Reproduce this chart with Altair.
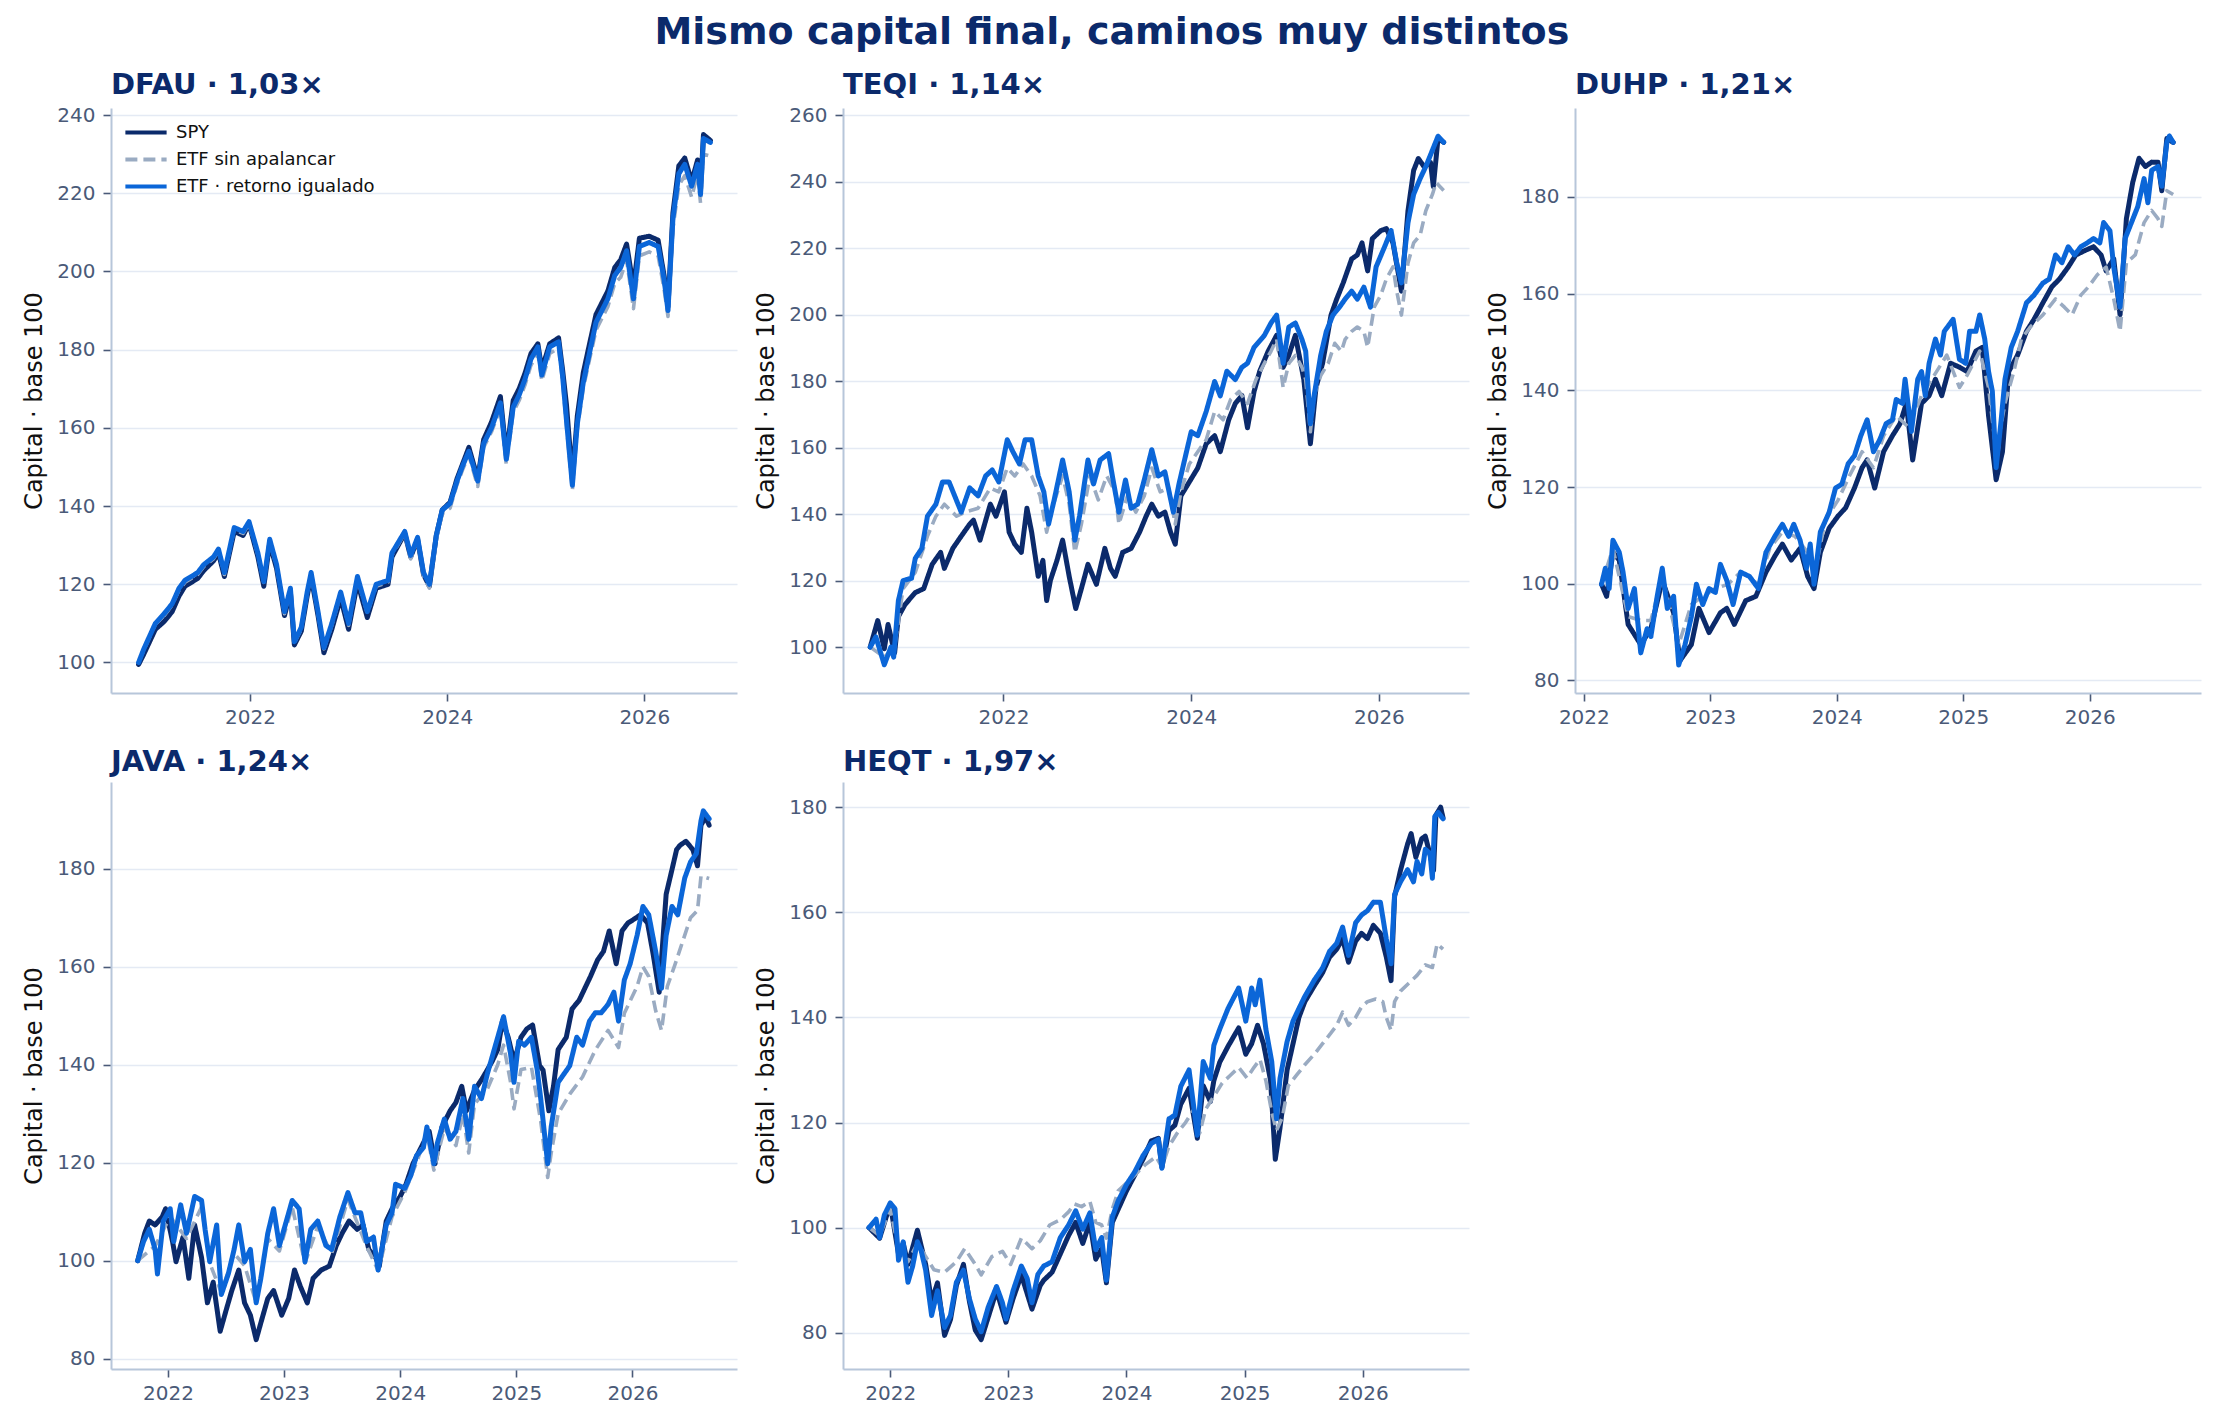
import altair as alt
import pandas as pd

SERIES = ["SPY", "ETF sin apalancar", "ETF · retorno igualado"]
COLORS = ["#0b2a6b", "#9aabc2", "#0b66d8"]
DASHES = [[1, 0], [12, 6], [1, 0]]
WIDTHS = [5.0, 3.6, 5.0]
FONT = "DejaVu Sans"
NAVY = "#0b2a6b"

TITLES = ["DFAU · 1,03×", "TEQI · 1,14×", "DUHP · 1,21×", "JAVA · 1,24×", "HEQT · 1,97×"]

# ---------------- DFAU (shared dates) ----------------
DFAU_T = [2020.87, 2020.92, 2021.04, 2021.13, 2021.21, 2021.28, 2021.34, 2021.47, 2021.53, 2021.63,
          2021.68, 2021.74, 2021.84, 2021.93, 2021.99, 2022.08, 2022.14, 2022.20, 2022.27, 2022.35,
          2022.41, 2022.45, 2022.52, 2022.58, 2022.62, 2022.69, 2022.75, 2022.83, 2022.92, 2023.00,
          2023.09, 2023.19, 2023.28, 2023.40, 2023.44, 2023.57, 2023.63, 2023.70, 2023.76, 2023.82,
          2023.89, 2023.95, 2024.03, 2024.10, 2024.16, 2024.22, 2024.31, 2024.37, 2024.45, 2024.54,
          2024.60, 2024.67, 2024.73, 2024.79, 2024.85, 2024.92, 2024.96, 2025.04, 2025.13, 2025.17,
          2025.21, 2025.27, 2025.32, 2025.38, 2025.44, 2025.51, 2025.57, 2025.63, 2025.70, 2025.76,
          2025.82, 2025.89, 2025.95, 2026.05, 2026.14, 2026.20, 2026.24, 2026.29, 2026.35, 2026.41,
          2026.48, 2026.54, 2026.57, 2026.60, 2026.67]
DFAU_EQ = [100, 103.3, 110, 112.5, 115, 119, 121, 123, 125, 127,
           129, 123, 134.5, 133.5, 136, 128, 120.7, 131.5, 125, 113,
           119, 105.3, 109, 118, 123, 113, 103.8, 110, 118, 110,
           122, 113, 120, 121, 128, 133.5, 127.4, 132, 123, 120,
           132.5, 139, 140.7, 146.4, 150.5, 154, 146.4, 156, 160, 166.4,
           152, 165.3, 168.4, 172.5, 177.6, 180.7, 173.5, 180.7, 182, 173.5,
           162, 145.3, 161, 171.5, 178.7, 187, 190, 193, 199, 201,
           205.3, 193, 206.4, 207.4, 206.4, 198, 190, 213.5, 225, 227.4,
           221.8, 227.4, 219.7, 234, 233]
DFAU_SPY = [99.5, 102, 108.5, 110.5, 113, 117, 119.5, 121.5, 123.5, 126,
            128, 122, 133.5, 132.5, 135.5, 127, 119.5, 130.5, 124, 112,
            118, 104.5, 108, 117, 122, 112, 102.5, 108.5, 116.5, 108.5,
            120.5, 111.5, 119, 120, 127, 133, 127, 131.5, 122.5, 119.5,
            132.5, 139, 141, 147, 151, 155, 147, 157, 161.5, 168,
            153, 167, 170, 174, 179, 181.5, 175, 181.5, 183, 175,
            166, 147, 163, 174, 181, 189, 192, 195, 201, 203,
            207, 196, 208.5, 209, 208, 199, 191, 215, 227, 229,
            223, 228.5, 221, 235, 233.5]
DFAU_UNL = [100, 103, 109.8, 112, 114.7, 118.5, 120.5, 122.5, 124.5, 126.5,
            128.5, 122.5, 134, 133, 135.5, 127.5, 120.5, 131, 124.5, 112.5,
            118.5, 105, 108.5, 117.5, 122.5, 112.5, 103.5, 109.5, 117.5, 109.5,
            121.5, 112.5, 119.5, 120.5, 127.5, 133, 126.5, 131.5, 122, 119,
            131.5, 138, 139.5, 145.5, 149.5, 153, 145, 155, 159, 165,
            150.5, 164, 167, 171, 176, 179, 172, 179, 180.5, 172,
            160.5, 144, 159.5, 170, 177, 185, 188, 191, 197, 198.5,
            203, 190.5, 204, 205, 204, 195.5, 188.5, 211, 222, 224.5,
            219, 225, 217.5, 230, 229.5]

# ---------------- TEQI ----------------
TEQI_EQ_T = [2020.58, 2020.64, 2020.73, 2020.80, 2020.83, 2020.88, 2020.93, 2021.02, 2021.06, 2021.13,
             2021.19, 2021.28, 2021.35, 2021.42, 2021.48, 2021.55, 2021.64, 2021.73, 2021.81, 2021.88,
             2021.95, 2022.04, 2022.10, 2022.17, 2022.23, 2022.30, 2022.37, 2022.43, 2022.48, 2022.54,
             2022.63, 2022.70, 2022.76, 2022.81, 2022.90, 2022.96, 2023.03, 2023.12, 2023.16, 2023.23,
             2023.30, 2023.36, 2023.43, 2023.50, 2023.58, 2023.65, 2023.72, 2023.81, 2023.87, 2023.94,
             2024.00, 2024.07, 2024.16, 2024.25, 2024.31, 2024.38, 2024.47, 2024.54, 2024.60, 2024.67,
             2024.78, 2024.85, 2024.91, 2024.98, 2025.04, 2025.11, 2025.18, 2025.22, 2025.27, 2025.31,
             2025.38, 2025.44, 2025.51, 2025.58, 2025.64, 2025.71, 2025.77, 2025.84, 2025.91, 2025.97,
             2026.06, 2026.13, 2026.19, 2026.24, 2026.31, 2026.37, 2026.44, 2026.50, 2026.57, 2026.63,
             2026.69]
TEQI_EQ = [100, 103.1, 94.7, 100, 97, 114, 120, 120.7, 126.7, 129.7,
           139.4, 143, 149.7, 149.7, 145.5, 140.6, 147.9, 145.5, 151.5, 153.3,
           149.7, 162.4, 158.8, 155.1, 162.4, 162.4, 151.5, 146.7, 137, 144.3,
           156.3, 146.7, 132.2, 139.4, 156.3, 149.1, 156.3, 158.2, 151.5, 140.6,
           150.3, 141.8, 143, 150.3, 159.4, 151.5, 152.7, 140.6, 149.1, 157.6,
           164.8, 163.6, 170.9, 179.9, 175.6, 183, 180.5, 184.2, 185.4, 190.2,
           193.8, 197.5, 199.9, 185.4, 196.3, 197.5, 192.6, 189, 167.2, 175.7,
           187.8, 195, 199.9, 202.3, 204.7, 207.1, 204.7, 208.3, 202.3, 214.4,
           220.4, 225.3, 215.6, 209.6, 227.7, 236.2, 241, 244.6, 249.5, 253.7,
           251.9]
TEQI_SPY_T = [2020.58, 2020.66, 2020.73, 2020.77, 2020.84, 2020.88, 2020.95, 2021.06, 2021.15, 2021.24,
              2021.33, 2021.37, 2021.46, 2021.55, 2021.64, 2021.68, 2021.75, 2021.86, 2021.92, 2022.01,
              2022.06, 2022.12, 2022.19, 2022.25, 2022.30, 2022.37, 2022.42, 2022.46, 2022.50, 2022.57,
              2022.63, 2022.70, 2022.77, 2022.83, 2022.90, 2022.99, 2023.08, 2023.14, 2023.19, 2023.27,
              2023.36, 2023.45, 2023.52, 2023.58, 2023.65, 2023.72, 2023.78, 2023.83, 2023.89, 2023.98,
              2024.07, 2024.16, 2024.25, 2024.31, 2024.40, 2024.47, 2024.54, 2024.60, 2024.67, 2024.73,
              2024.82, 2024.91, 2024.98, 2025.04, 2025.11, 2025.20, 2025.27, 2025.33, 2025.40, 2025.49,
              2025.55, 2025.62, 2025.71, 2025.77, 2025.82, 2025.88, 2025.93, 2026.02, 2026.08, 2026.15,
              2026.24, 2026.31, 2026.37, 2026.42, 2026.48, 2026.55, 2026.58, 2026.63, 2026.69]
TEQI_SPY = [100, 108, 99.5, 106.8, 98.3, 109.2, 112.8, 116.4, 117.6, 124.9,
            128.5, 123.7, 129.7, 133.4, 137, 138.2, 132.2, 143, 139.4, 146.7,
            134.6, 131, 128.5, 141.8, 134.6, 121.3, 126.1, 114, 120.1, 126.1,
            132.2, 121.3, 111.6, 117.6, 124.9, 118.9, 129.7, 123.7, 121.3, 128.5,
            129.7, 134.6, 139.4, 143, 139.4, 140.6, 134.6, 131, 145.5, 149.7,
            153.9, 161.2, 163.6, 158.8, 168.4, 173.3, 175.7, 166, 176.9, 183,
            189, 193.8, 184.2, 187.8, 193.8, 180.5, 161.2, 178.1, 185.4, 199.9,
            204.7, 209.6, 216.8, 218, 221.6, 213.2, 222.9, 225.3, 225.9, 221.6,
            207.1, 231.3, 243.4, 247, 244.6, 245.8, 238.6, 253.1, 251.9]
TEQI_UNL_T = [2020.58, 2020.73, 2020.84, 2020.93, 2021.06, 2021.19, 2021.28, 2021.37, 2021.50, 2021.59,
              2021.73, 2021.86, 2021.95, 2022.04, 2022.12, 2022.21, 2022.30, 2022.39, 2022.46, 2022.52,
              2022.63, 2022.70, 2022.76, 2022.83, 2022.92, 2023.01, 2023.10, 2023.19, 2023.23, 2023.32,
              2023.41, 2023.50, 2023.58, 2023.67, 2023.76, 2023.83, 2023.89, 2023.98, 2024.07, 2024.16,
              2024.25, 2024.34, 2024.42, 2024.51, 2024.60, 2024.69, 2024.78, 2024.85, 2024.91, 2024.98,
              2025.04, 2025.11, 2025.18, 2025.22, 2025.27, 2025.31, 2025.38, 2025.46, 2025.53, 2025.60,
              2025.64, 2025.71, 2025.77, 2025.84, 2025.88, 2025.95, 2026.02, 2026.08, 2026.15, 2026.19,
              2026.24, 2026.31, 2026.37, 2026.44, 2026.50, 2026.57, 2026.61, 2026.69]
TEQI_UNL = [100, 97, 100, 117.6, 122.5, 133.4, 139.4, 143, 139.4, 140.6,
            141.8, 147.9, 146.7, 153.9, 151.5, 155.1, 151.5, 145.5, 134.6, 141.8,
            151.5, 143, 128.5, 137, 151.5, 144.3, 151.5, 146.7, 137, 145.5,
            140.6, 145.5, 153.9, 146.7, 147.9, 137, 146.7, 155.1, 158.8, 162.4,
            170.9, 168.4, 174.5, 176.9, 173.3, 180.5, 185.4, 189, 192.6, 178.1,
            185.4, 187.8, 184.2, 180.5, 164.8, 175.7, 181.7, 185.4, 191.4, 189,
            192.6, 195, 196.3, 195, 190.2, 202.3, 205.9, 210.8, 214.4, 207.1,
            199.9, 215.6, 221.6, 224, 231.3, 236.2, 239.8, 237.4]

# ---------------- DUHP ----------------
DUHP_EQ_T = [2022.14, 2022.17, 2022.20, 2022.23, 2022.28, 2022.31, 2022.35, 2022.40, 2022.45, 2022.50,
             2022.53, 2022.58, 2022.62, 2022.66, 2022.71, 2022.75, 2022.80, 2022.85, 2022.89, 2022.94,
             2022.99, 2023.04, 2023.08, 2023.13, 2023.18, 2023.24, 2023.31, 2023.38, 2023.44, 2023.51,
             2023.57, 2023.62, 2023.66, 2023.71, 2023.76, 2023.79, 2023.82, 2023.87, 2023.94, 2023.99,
             2024.04, 2024.09, 2024.14, 2024.19, 2024.24, 2024.29, 2024.34, 2024.39, 2024.44, 2024.47,
             2024.52, 2024.54, 2024.59, 2024.64, 2024.67, 2024.70, 2024.73, 2024.78, 2024.82, 2024.85,
             2024.92, 2024.97, 2025.02, 2025.05, 2025.10, 2025.13, 2025.17, 2025.20, 2025.23, 2025.26,
             2025.30, 2025.33, 2025.38, 2025.43, 2025.50, 2025.56, 2025.63, 2025.68, 2025.73, 2025.78,
             2025.83, 2025.88, 2025.93, 2025.98, 2026.03, 2026.08, 2026.11, 2026.16, 2026.19, 2026.24,
             2026.28, 2026.33, 2026.38, 2026.43, 2026.46, 2026.49, 2026.54, 2026.57, 2026.61, 2026.63,
             2026.66]
DUHP_EQ = [99.9, 103.2, 99, 109, 106.5, 102.4, 94.9, 99, 85.7, 90.7,
           89.1, 97.4, 103.2, 94.9, 97.4, 83.2, 87.4, 93.2, 99.9, 95.7,
           99, 98.2, 104, 100.7, 95.7, 102.4, 101.5, 99, 106.5, 109.8,
           112.3, 109.8, 112.3, 109, 103.2, 108.2, 99.9, 110.7, 114.8, 119.8,
           120.6, 124.8, 126.5, 130.6, 133.9, 127.3, 129.8, 133.1, 133.9, 138.1,
           137.3, 142.3, 131.5, 142.3, 143.9, 138.9, 145.6, 150.6, 147.3, 152.2,
           154.7, 146.4, 145.6, 152.2, 152.2, 155.6, 150.6, 143.9, 139.8, 124,
           133.9, 142.3, 148.9, 152.2, 158.1, 159.7, 162.2, 163, 168, 166.4,
           169.7, 168, 169.7, 170.5, 171.4, 170.5, 174.7, 173, 165.5, 157.2,
           171.4, 174.7, 178, 183.8, 178.8, 185.5, 186.3, 182.2, 191.3, 192.6,
           191.3]
DUHP_SPY_T = [2022.14, 2022.18, 2022.23, 2022.28, 2022.35, 2022.45, 2022.53, 2022.62, 2022.71, 2022.76,
              2022.85, 2022.91, 2022.99, 2023.08, 2023.13, 2023.19, 2023.28, 2023.36, 2023.44, 2023.51,
              2023.57, 2023.64, 2023.71, 2023.77, 2023.82, 2023.87, 2023.94, 2024.01, 2024.07, 2024.14,
              2024.20, 2024.24, 2024.30, 2024.37, 2024.44, 2024.50, 2024.55, 2024.60, 2024.67, 2024.73,
              2024.78, 2024.83, 2024.90, 2024.97, 2025.03, 2025.10, 2025.15, 2025.20, 2025.26, 2025.31,
              2025.36, 2025.43, 2025.50, 2025.56, 2025.63, 2025.70, 2025.76, 2025.83, 2025.89, 2025.96,
              2026.03, 2026.09, 2026.13, 2026.19, 2026.24, 2026.29, 2026.34, 2026.39, 2026.44, 2026.49,
              2026.54, 2026.57, 2026.61, 2026.66]
DUHP_SPY = [99.9, 97.4, 106.5, 104.9, 91.6, 87.4, 90.7, 100.7, 94, 84.1,
            87.4, 94.9, 89.9, 94, 94.9, 91.6, 96.5, 97.4, 102.4, 105.7,
            108.2, 104.9, 107.3, 101.5, 99, 106.5, 111.5, 114, 115.7, 119.8,
            124, 125.6, 119.8, 127.3, 130.6, 133.1, 137.3, 125.6, 137.3, 138.9,
            142.3, 138.9, 145.6, 144.8, 143.9, 148.1, 148.9, 134.8, 121.5, 127.3,
            143.9, 147.3, 152.2, 154.7, 158.1, 161.4, 163, 165.5, 168, 168.9,
            169.7, 168, 164.7, 167.2, 155.6, 175.5, 183, 188, 186.3, 187.2,
            187.2, 181.3, 192.1, 191.3]
DUHP_UNL_T = [2022.14, 2022.23, 2022.35, 2022.45, 2022.53, 2022.62, 2022.75, 2022.85, 2022.94, 2023.04,
              2023.14, 2023.24, 2023.38, 2023.47, 2023.57, 2023.67, 2023.77, 2023.82, 2023.91, 2024.01,
              2024.10, 2024.20, 2024.29, 2024.37, 2024.47, 2024.57, 2024.67, 2024.77, 2024.87, 2024.97,
              2025.03, 2025.13, 2025.20, 2025.26, 2025.33, 2025.40, 2025.46, 2025.53, 2025.63, 2025.73,
              2025.80, 2025.86, 2025.93, 2025.99, 2026.06, 2026.13, 2026.19, 2026.24, 2026.29, 2026.36,
              2026.43, 2026.49, 2026.54, 2026.57, 2026.61, 2026.66]
DUHP_UNL = [99.9, 107.3, 93.2, 92.4, 92.4, 101.5, 87.4, 95.7, 97.4, 99,
            99.9, 102.4, 99.9, 107.3, 110.7, 109.8, 106.5, 101.5, 113.2, 117.3,
            122.3, 127.3, 124, 130.6, 134.8, 132.3, 138.9, 143.1, 147.3, 140.6,
            143.1, 148.1, 140.6, 127.3, 137.3, 143.9, 150.6, 153.1, 155.6, 158.9,
            157.2, 155.6, 159.7, 161.4, 163.9, 165.5, 158.9, 152.2, 166.4, 168,
            174.7, 177.2, 175.5, 173.9, 181.3, 180.5]

# ---------------- JAVA ----------------
JAVA_EQ_T = [2021.74, 2021.79, 2021.84, 2021.89, 2021.91, 2021.96, 2022.02, 2022.05, 2022.11, 2022.16,
             2022.23, 2022.29, 2022.32, 2022.36, 2022.42, 2022.46, 2022.52, 2022.57, 2022.61, 2022.66,
             2022.71, 2022.76, 2022.80, 2022.86, 2022.91, 2022.96, 2023.02, 2023.07, 2023.13, 2023.18,
             2023.23, 2023.29, 2023.36, 2023.41, 2023.48, 2023.55, 2023.61, 2023.66, 2023.71, 2023.77,
             2023.81, 2023.88, 2023.93, 2023.96, 2024.04, 2024.09, 2024.14, 2024.20, 2024.23, 2024.29,
             2024.32, 2024.38, 2024.43, 2024.48, 2024.54, 2024.59, 2024.64, 2024.70, 2024.75, 2024.80,
             2024.84, 2024.89, 2024.95, 2024.98, 2025.02, 2025.07, 2025.13, 2025.18, 2025.21, 2025.27,
             2025.30, 2025.36, 2025.41, 2025.46, 2025.52, 2025.57, 2025.63, 2025.68, 2025.73, 2025.79,
             2025.84, 2025.88, 2025.93, 2025.98, 2026.04, 2026.09, 2026.14, 2026.20, 2026.25, 2026.29,
             2026.34, 2026.39, 2026.45, 2026.50, 2026.55, 2026.59, 2026.61, 2026.66]
JAVA_EQ = [100, 103.9, 106.4, 102.3, 97.3, 108.1, 110.6, 103.9, 111.4, 105.6,
           113.1, 112.3, 106.4, 99.8, 107.3, 93.1, 97.3, 102.3, 107.3, 99.8,
           102.3, 91.4, 96.4, 105.6, 110.6, 103.1, 108.1, 112.3, 110.6, 99.8,
           106.4, 108.1, 103.1, 102.3, 108.9, 113.9, 109.8, 109.8, 103.9, 104.8,
           98.1, 107.3, 109.8, 115.6, 114.8, 117.3, 121.4, 123.1, 127.3, 119.8,
           124, 128.9, 124.8, 126.4, 133.1, 124.8, 135.6, 133.1, 138.1, 142.3,
           145.6, 149.8, 142.3, 136.4, 144.8, 144, 145.6, 138.9, 133.1, 119.8,
           127.3, 136.4, 138.1, 139.8, 145.6, 144, 148.9, 150.6, 150.6, 152.3,
           154.8, 148.9, 157.3, 160.6, 166.4, 172.3, 170.6, 163.1, 155.6, 166.4,
           172.3, 170.6, 178.1, 181.4, 183.1, 189.8, 191.8, 190.2]
JAVA_SPY_T = [2021.74, 2021.80, 2021.84, 2021.89, 2021.95, 2021.98, 2022.04, 2022.07, 2022.13, 2022.18,
              2022.23, 2022.29, 2022.34, 2022.39, 2022.45, 2022.50, 2022.55, 2022.61, 2022.66, 2022.71,
              2022.76, 2022.80, 2022.86, 2022.91, 2022.98, 2023.04, 2023.09, 2023.14, 2023.20, 2023.25,
              2023.32, 2023.39, 2023.45, 2023.50, 2023.56, 2023.63, 2023.68, 2023.73, 2023.79, 2023.82,
              2023.88, 2023.93, 2024.00, 2024.05, 2024.11, 2024.18, 2024.25, 2024.30, 2024.36, 2024.43,
              2024.48, 2024.53, 2024.57, 2024.64, 2024.71, 2024.79, 2024.84, 2024.88, 2024.93, 2024.98,
              2025.04, 2025.09, 2025.14, 2025.20, 2025.23, 2025.28, 2025.32, 2025.36, 2025.43, 2025.48,
              2025.54, 2025.59, 2025.64, 2025.70, 2025.75, 2025.80, 2025.86, 2025.91, 2025.96, 2026.02,
              2026.07, 2026.13, 2026.18, 2026.23, 2026.29, 2026.34, 2026.38, 2026.41, 2026.46, 2026.52,
              2026.56, 2026.59, 2026.63, 2026.66]
JAVA_SPY = [100, 105.6, 108.1, 107.3, 108.9, 110.6, 103.9, 99.8, 104.8, 96.4,
            107.3, 100.6, 91.4, 95.6, 85.6, 89.8, 93.9, 98.1, 91.4, 88.9,
            83.9, 87.3, 92.3, 93.9, 88.9, 92.3, 98.1, 94.8, 91.4, 96.4,
            98.1, 98.9, 103.1, 105.6, 108.1, 106.4, 107.3, 102.3, 100.6, 98.9,
            108.1, 110.6, 113.1, 115.6, 119.8, 123.1, 126.4, 119.8, 127.3, 130.6,
            132.3, 135.6, 130.6, 134.8, 137.3, 140.6, 143.1, 148.9, 145.6, 140.6,
            145.6, 147.3, 148.1, 139.8, 138.9, 130.6, 135.6, 143.1, 145.6, 151.4,
            153.1, 155.6, 158.1, 161.4, 163.1, 167.3, 160.6, 167.3, 168.9, 169.8,
            170.6, 168.9, 162.3, 154.8, 174.8, 179.8, 183.9, 184.8, 185.6, 183.9,
            180.6, 188.9, 190.6, 188.9]
JAVA_UNL_T = [2021.74, 2021.89, 2022.02, 2022.16, 2022.29, 2022.36, 2022.46, 2022.57, 2022.66, 2022.76,
              2022.86, 2022.96, 2023.07, 2023.18, 2023.29, 2023.41, 2023.55, 2023.71, 2023.81, 2023.93,
              2024.04, 2024.14, 2024.23, 2024.29, 2024.38, 2024.48, 2024.54, 2024.59, 2024.64, 2024.75,
              2024.84, 2024.89, 2024.95, 2024.98, 2025.04, 2025.13, 2025.21, 2025.27, 2025.30, 2025.36,
              2025.46, 2025.57, 2025.63, 2025.68, 2025.79, 2025.88, 2025.93, 2026.04, 2026.09, 2026.14,
              2026.20, 2026.25, 2026.30, 2026.36, 2026.43, 2026.50, 2026.56, 2026.59, 2026.66]
JAVA_UNL = [100, 103, 109, 104.5, 111, 99.5, 93.5, 101.5, 99, 91.5,
            104.5, 102, 111, 99.5, 107, 101.5, 112.5, 103, 98, 109,
            114, 120, 126, 118.5, 127, 123.5, 130, 122, 132, 135,
            140, 144, 136.5, 131, 139, 139.5, 128.5, 117, 122, 130,
            134, 137.5, 140.5, 143, 147, 143.5, 150.5, 156, 160, 158,
            151, 147, 156, 160, 165, 170, 171.5, 178.5, 178]

# ---------------- HEQT ----------------
HEQT_EQ_T = [2021.82, 2021.88, 2021.91, 2021.95, 2022.00, 2022.04, 2022.07, 2022.11, 2022.15, 2022.19,
             2022.23, 2022.26, 2022.30, 2022.35, 2022.40, 2022.46, 2022.51, 2022.56, 2022.62, 2022.67,
             2022.72, 2022.77, 2022.83, 2022.90, 2022.95, 2022.98, 2023.04, 2023.11, 2023.16, 2023.20,
             2023.25, 2023.30, 2023.37, 2023.44, 2023.51, 2023.57, 2023.63, 2023.69, 2023.74, 2023.79,
             2023.83, 2023.88, 2023.93, 2024.00, 2024.07, 2024.14, 2024.21, 2024.27, 2024.30, 2024.36,
             2024.41, 2024.46, 2024.53, 2024.60, 2024.65, 2024.71, 2024.74, 2024.79, 2024.86, 2024.95,
             2025.01, 2025.06, 2025.09, 2025.13, 2025.18, 2025.23, 2025.27, 2025.30, 2025.36, 2025.41,
             2025.46, 2025.51, 2025.59, 2025.66, 2025.72, 2025.78, 2025.83, 2025.88, 2025.94, 2025.99,
             2026.04, 2026.09, 2026.15, 2026.20, 2026.24, 2026.27, 2026.32, 2026.38, 2026.43, 2026.46,
             2026.50, 2026.53, 2026.57, 2026.59, 2026.61, 2026.64, 2026.68]
HEQT_EQ = [100, 101.6, 98.1, 102.4, 104.7, 103.6, 93.8, 97.3, 89.6, 92.7,
           97.3, 95.8, 91.9, 83.3, 88, 81, 83.3, 89.6, 91.9, 86.5,
           82.6, 80.2, 84.9, 88.8, 85.7, 82.6, 88, 92.7, 90.3, 85.7,
           91.1, 92.7, 93.5, 98.1, 100.5, 103.2, 99.7, 102.8, 95.8, 98.1,
           90, 102, 105.1, 108.2, 110.6, 113.7, 116, 116.8, 111.3, 120.7,
           121.4, 126.9, 130, 117.6, 131.6, 128.4, 134.7, 137.8, 141.7, 145.6,
           139.3, 145.6, 142.4, 147.1, 137.8, 131.6, 120.7, 128.4, 135.4, 139.3,
           141.7, 144, 147.1, 149.4, 152.6, 154.1, 157.2, 151.8, 158, 159.5,
           160.3, 161.9, 161.9, 154.9, 150.2, 163.4, 165.8, 168.1, 165.8, 169.7,
           167.3, 172, 171.2, 166.5, 178.2, 179, 177.8]
HEQT_SPY_T = [2021.82, 2021.91, 2022.00, 2022.07, 2022.11, 2022.15, 2022.23, 2022.30, 2022.35, 2022.40,
              2022.46, 2022.51, 2022.56, 2022.62, 2022.67, 2022.72, 2022.77, 2022.83, 2022.90, 2022.98,
              2023.04, 2023.11, 2023.20, 2023.27, 2023.30, 2023.37, 2023.44, 2023.51, 2023.57, 2023.63,
              2023.69, 2023.74, 2023.79, 2023.83, 2023.88, 2023.93, 2024.00, 2024.07, 2024.14, 2024.21,
              2024.27, 2024.30, 2024.36, 2024.41, 2024.46, 2024.53, 2024.60, 2024.65, 2024.71, 2024.74,
              2024.79, 2024.86, 2024.95, 2025.01, 2025.06, 2025.11, 2025.16, 2025.22, 2025.26, 2025.30,
              2025.36, 2025.41, 2025.46, 2025.51, 2025.59, 2025.66, 2025.72, 2025.78, 2025.83, 2025.88,
              2025.94, 2025.99, 2026.04, 2026.09, 2026.15, 2026.20, 2026.24, 2026.27, 2026.32, 2026.38,
              2026.41, 2026.45, 2026.50, 2026.53, 2026.57, 2026.60, 2026.62, 2026.66, 2026.68]
HEQT_SPY = [100, 98, 104.5, 95, 97, 93, 99.5, 93, 86, 89.5,
            79.5, 82.5, 89, 93, 86, 80.5, 78.7, 83, 88, 82,
            86.5, 91, 84.5, 89, 90, 91.5, 95, 98.5, 101, 97,
            101, 94, 96, 89.5, 101, 103.5, 107, 110, 113, 116.5,
            117, 111.5, 118.5, 119.5, 123.5, 126.5, 117, 127, 124, 128,
            131.5, 134.5, 138, 133, 135, 138.5, 135, 128, 113, 119,
            130, 135, 140, 143, 146, 148.5, 151.5, 153, 155, 150.5,
            154.5, 156, 155, 157.5, 156, 151.5, 147, 163, 168, 173,
            175, 170.5, 174, 174.5, 171, 168, 178.5, 180, 178]
HEQT_UNL_T = [2021.82, 2021.91, 2022.00, 2022.07, 2022.15, 2022.23, 2022.30, 2022.37, 2022.46, 2022.56,
              2022.63, 2022.72, 2022.77, 2022.86, 2022.95, 2023.02, 2023.11, 2023.20, 2023.27, 2023.35,
              2023.44, 2023.51, 2023.56, 2023.62, 2023.69, 2023.74, 2023.79, 2023.83, 2023.88, 2023.93,
              2024.00, 2024.07, 2024.16, 2024.25, 2024.30, 2024.36, 2024.43, 2024.50, 2024.57, 2024.62,
              2024.67, 2024.74, 2024.81, 2024.88, 2024.95, 2025.02, 2025.08, 2025.13, 2025.18, 2025.23,
              2025.27, 2025.32, 2025.37, 2025.44, 2025.51, 2025.59, 2025.66, 2025.73, 2025.78, 2025.83,
              2025.88, 2025.94, 2025.99, 2026.04, 2026.11, 2026.17, 2026.20, 2026.24, 2026.27, 2026.32,
              2026.39, 2026.46, 2026.53, 2026.59, 2026.63, 2026.68]
HEQT_UNL = [100, 98.5, 103.5, 96, 93.5, 97, 94.5, 92, 91.5, 93.5,
            96, 93, 91, 94.5, 95.5, 93, 98, 96, 97.5, 100.5,
            101.5, 103, 104.5, 104, 105, 101, 100.5, 98, 103.5, 107,
            108.5, 110, 112, 113.5, 111.5, 115.5, 118, 120, 122.5, 118,
            122.5, 125, 127.5, 129, 130.5, 128.5, 130.5, 132, 128, 122,
            118.5, 121, 127, 129, 131, 133, 135, 137, 138.5, 141,
            138.5, 140, 142, 143, 143.5, 143, 140, 137.5, 143, 145,
            146.5, 148, 150, 149.5, 154, 153]

# axis domains & ticks
X_DOMAINS = [[2020.59, 2026.94], [2020.29, 2026.96], [2021.93, 2026.88], [2021.51, 2026.90], [2021.60, 2026.90]]
Y_DOMAINS = [[92.2, 241.8], [86.2, 262.2], [77.4, 198.4], [77.9, 197.7], [73.1, 184.8]]
X_TICKS = [[2022, 2024, 2026], [2022, 2024, 2026], [2022, 2023, 2024, 2025, 2026],
           [2022, 2023, 2024, 2025, 2026], [2022, 2023, 2024, 2025, 2026]]
Y_TICKS = [list(range(100, 241, 20)), list(range(100, 261, 20)), list(range(80, 181, 20)),
           list(range(80, 181, 20)), list(range(80, 181, 20))]
TITLE_OFFSETS = [5, 5, 8, 5, 5]

PANELS = [
    [(DFAU_T, DFAU_SPY), (DFAU_T, DFAU_UNL), (DFAU_T, DFAU_EQ)],
    [(TEQI_SPY_T, TEQI_SPY), (TEQI_UNL_T, TEQI_UNL), (TEQI_EQ_T, TEQI_EQ)],
    [(DUHP_SPY_T, DUHP_SPY), (DUHP_UNL_T, DUHP_UNL), (DUHP_EQ_T, DUHP_EQ)],
    [(JAVA_SPY_T, JAVA_SPY), (JAVA_UNL_T, JAVA_UNL), (JAVA_EQ_T, JAVA_EQ)],
    [(HEQT_SPY_T, HEQT_SPY), (HEQT_UNL_T, HEQT_UNL), (HEQT_EQ_T, HEQT_EQ)],
]


def make_panel(k, height, show_legend):
    layers = []
    for i, (xs, ys) in enumerate(PANELS[k]):
        pairs = list(zip(xs, ys))
        df = pd.DataFrame({"t": [p[0] for p in pairs], "v": [p[1] for p in pairs], "serie": SERIES[i]})
        if show_legend:
            leg = alt.Legend(title=None, orient="none", legendX=12, legendY=11,
                             labelFont=FONT, labelFontSize=18, labelColor="#111111", labelLimit=500,
                             symbolType="stroke", symbolSize=1700, symbolStrokeWidth=4,
                             labelOffset=7, rowPadding=0, clipHeight=27, padding=0)
        else:
            leg = None
        layers.append(
            alt.Chart(df).mark_line(strokeWidth=WIDTHS[i], strokeJoin="round",
                                    strokeCap="round" if i != 1 else "butt").encode(
                x=alt.X("t:Q", scale=alt.Scale(domain=X_DOMAINS[k], nice=False, zero=False),
                        axis=alt.Axis(values=X_TICKS[k], format="d", title=None, grid=False,
                                      labelPadding=6, labelFlush=False)),
                y=alt.Y("v:Q", scale=alt.Scale(domain=Y_DOMAINS[k], nice=False, zero=False),
                        axis=alt.Axis(values=Y_TICKS[k], format="d", title="Capital · base 100",
                                      grid=True, labelPadding=8, titlePadding=10)),
                color=alt.Color("serie:N", scale=alt.Scale(domain=SERIES, range=COLORS), legend=leg),
                strokeDash=alt.StrokeDash("serie:N", scale=alt.Scale(domain=SERIES, range=DASHES), legend=leg),
            )
        )
    return alt.layer(*layers).properties(
        width=626, height=height,
        title=alt.TitleParams(TITLES[k], anchor="start", frame="group", font=FONT, fontSize=29,
                              fontWeight="bold", color=NAVY, offset=TITLE_OFFSETS[k]),
    )


panels = [make_panel(0, 585, True), make_panel(1, 585, False), make_panel(2, 585, False),
          make_panel(3, 587, False), make_panel(4, 587, False)]

chart = alt.concat(
    *panels, columns=3, spacing={"row": 89, "column": 106}, bounds="flush",
    title=alt.TitleParams("Mismo capital final, caminos muy distintos", anchor="middle", font=FONT,
                          fontSize=38, fontWeight="bold", color=NAVY, offset=19),
    padding={"left": 14, "top": 6, "right": 5, "bottom": 5},
    background="white",
).resolve_scale(
    x="independent", y="independent", color="independent", strokeDash="independent"
).resolve_axis(
    x="independent", y="independent"
).resolve_legend(
    color="independent", strokeDash="independent"
).configure_view(
    stroke=None
).configure_axis(
    labelFont=FONT, labelFontSize=20, labelColor="#4a5a78",
    tickColor="#4a5a78", tickSize=8, tickWidth=1.6,
    domainColor="#b7c6da", domainWidth=2,
    gridColor="#e4eaf4", gridWidth=1.6,
    titleFont=FONT, titleFontSize=24, titleFontWeight="normal", titleColor="#111111",
)

chart.save("out.html", embed_options={"renderer": "svg", "actions": False})
